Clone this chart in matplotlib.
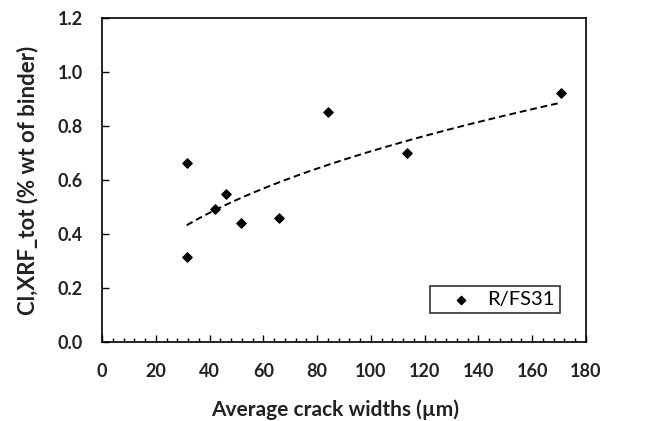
import numpy as np
import matplotlib
matplotlib.use("Agg")
import matplotlib.pyplot as plt
from matplotlib.ticker import MultipleLocator, FormatStrFormatter

plt.rcParams['font.family'] = ['Lato', 'DejaVu Sans']

crack_width = [31.5, 31.5, 41.9, 46.1, 51.6, 65.7, 84.2, 113.5, 170.7]
cl_xrf = [0.665, 0.315, 0.492, 0.550, 0.442, 0.460, 0.852, 0.702, 0.922]
series_label = "R/FS31"

fig = plt.figure(figsize=(6.59, 4.21), dpi=100)
ax = fig.add_axes([0.1548, 0.1876, 0.889 - 0.1548, 0.957 - 0.1876])

x = np.array(crack_width)
y = np.array(cl_xrf)
ax.scatter(x, y, marker='D', s=22, color='black', zorder=3, label=series_label)

# power trendline
b, lna = np.polyfit(np.log(x), np.log(y), 1)
xf = np.linspace(x.min(), x.max(), 200)
yf = np.exp(lna) * xf ** b
ax.plot(xf, yf, '--', color='black', lw=1.4, dashes=(3.5, 2))

ax.set_xlim(0, 180)
ax.set_ylim(0, 1.2)
ax.xaxis.set_major_locator(MultipleLocator(20))
ax.xaxis.set_minor_locator(MultipleLocator(4))
ax.yaxis.set_major_locator(MultipleLocator(0.2))
ax.yaxis.set_major_formatter(FormatStrFormatter('%.1f'))
ax.tick_params(axis='both', which='major', direction='in', length=5, width=1, labelsize=13, pad=14)
ax.tick_params(axis='x', which='major', pad=15)
ax.tick_params(axis='x', which='minor', direction='in', length=3, width=1)
for lab in ax.get_xticklabels() + ax.get_yticklabels():
    lab.set_fontweight('bold')
    lab.set_color('#222222')
for s in ax.spines.values():
    s.set_linewidth(1.2)

ax.set_xlabel('Average crack widths (µm)', fontsize=15, fontweight='bold', color='#222222')
ax.set_ylabel('Cl,XRF_tot (% wt of binder)', fontsize=16, fontweight='bold', color='#222222')
ax.xaxis.set_label_coords(0.481, -0.176)
ax.yaxis.set_label_coords(-0.132, 0.5)

leg = ax.legend(loc='center', bbox_to_anchor=(0.812, 0.131), fontsize=14.5, frameon=True,
                fancybox=False, edgecolor='black', handlelength=2.6, handletextpad=0.0,
                borderpad=0.25, borderaxespad=0, markerscale=0.9)
leg.get_frame().set_linewidth(1.2)

fig.savefig('out.png', dpi=100)
